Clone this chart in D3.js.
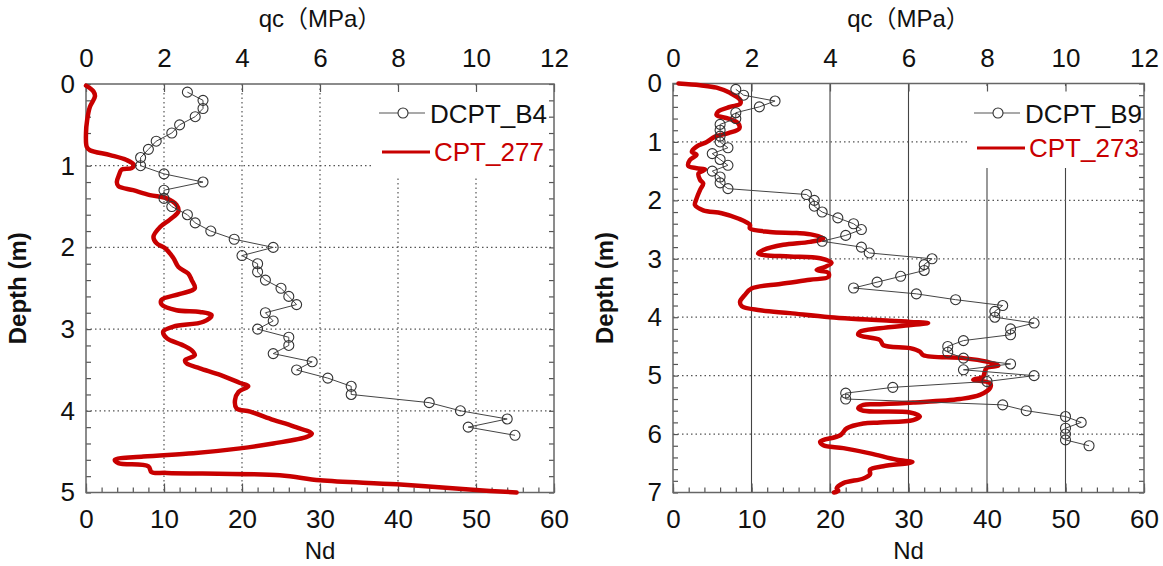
<!DOCTYPE html>
<html>
<head>
<meta charset="utf-8">
<script src="https://cdn.jsdelivr.net/npm/d3@7"></script>
<style>
body { margin: 0; background: #fff; }
svg text { font-family: "Liberation Sans", Arial, "Noto Sans CJK JP", sans-serif; fill: #111; }
</style>
</head>
<body>
<svg id="chart" width="1163" height="566"></svg>
<script>
// ---- data ----
const ndTicks = [0, 10, 20, 30, 40, 50, 60];
const qcTicks = [0, 2, 4, 6, 8, 10, 12];

const b4Depth = [0.1, 0.2, 0.3, 0.4, 0.5, 0.6, 0.7, 0.8, 0.9, 1.0,
    1.1, 1.2, 1.3, 1.4, 1.5, 1.6, 1.7, 1.8, 1.9, 2.0,
    2.1, 2.2, 2.3, 2.4, 2.5, 2.6, 2.7, 2.8, 2.9, 3.0,
    3.1, 3.2, 3.3, 3.4, 3.5, 3.6, 3.7, 3.8, 3.9, 4.0,
    4.1, 4.2, 4.3];
const b4Nd = [13, 15, 15, 14, 12, 11, 9, 8, 7, 7,
    10, 15, 10, 10, 11, 13, 14, 16, 19, 24,
    20, 22, 22, 23, 25, 26, 27, 23, 24, 22,
    26, 26, 24, 29, 27, 31, 34, 34, 44, 48,
    54, 49, 55];

// CPT_277: [qc (MPa), depth (m)]
const cpt277 = [[0.0, 0.02], [0.19, 0.09], [0.23, 0.15], [0.10, 0.28], [0.03, 0.44], [0.0, 0.6],
    [0.02, 0.77], [0.1, 0.81], [0.62, 0.87], [1.04, 0.93], [1.23, 0.99], [1.17, 1.03], [0.91, 1.05],
    [0.85, 1.11], [0.79, 1.2], [0.83, 1.25], [1.21, 1.30], [1.64, 1.36], [2.07, 1.40], [2.32, 1.48],
    [2.37, 1.56], [2.15, 1.66], [1.9, 1.75], [1.73, 1.87], [1.81, 1.95], [2.03, 2.01], [2.24, 2.13],
    [2.37, 2.24], [2.62, 2.32], [2.71, 2.4], [2.79, 2.5], [2.41, 2.57], [1.94, 2.64], [1.94, 2.70],
    [2.32, 2.77], [2.92, 2.79], [3.22, 2.83], [3.01, 2.91], [2.24, 2.97], [1.98, 3.03], [2.07, 3.11],
    [2.45, 3.19], [2.71, 3.26], [2.79, 3.32], [2.54, 3.38], [2.58, 3.42], [2.92, 3.48], [3.44, 3.56],
    [3.95, 3.66], [4.16, 3.70], [3.91, 3.77], [3.82, 3.87], [3.86, 3.97], [4.21, 4.01], [4.80, 4.11],
    [5.32, 4.19], [5.79, 4.28], [5.66, 4.32], [4.80, 4.40], [3.95, 4.46], [2.75, 4.52], [1.47, 4.56],
    [0.74, 4.60], [0.83, 4.64], [1.60, 4.68], [1.68, 4.75], [2.07, 4.76], [4.97, 4.79], [6.0, 4.85],
    [7.97, 4.9], [10.0, 4.97], [11.04, 5.0]];

const b9Depth = [0.1, 0.2, 0.3, 0.4, 0.5, 0.6, 0.7, 0.8, 0.9, 1.0,
    1.1, 1.2, 1.3, 1.4, 1.5, 1.6, 1.7, 1.8, 1.9, 2.0,
    2.1, 2.2, 2.3, 2.4, 2.5, 2.6, 2.7, 2.8, 2.9, 3.0,
    3.1, 3.2, 3.3, 3.4, 3.5, 3.6, 3.7, 3.8, 3.9, 4.0,
    4.1, 4.2, 4.3, 4.4, 4.5, 4.6, 4.7, 4.8, 4.9, 5.0,
    5.1, 5.2, 5.3, 5.4, 5.5, 5.6, 5.7, 5.8, 5.9, 6.0,
    6.1, 6.2];
const b9Nd = [8, 9, 13, 11, 8, 8, 6, 6, 6, 6,
    7, 5, 6, 7, 5, 6, 6, 7, 17, 18,
    18, 19, 21, 23, 24, 22, 19, 24, 25, 33,
    32, 32, 29, 26, 23, 31, 36, 42, 41, 41,
    46, 43, 43, 37, 35, 35, 37, 43, 37, 46,
    40, 28, 22, 22, 42, 45, 50, 52, 50, 50,
    50, 53];

// CPT_273: [qc (MPa), depth (m)]
const cpt273 = [[0.14, 0.0], [0.69, 0.03], [1.11, 0.07], [1.45, 0.16], [1.71, 0.28], [1.71, 0.35],
    [1.45, 0.40], [1.15, 0.48], [1.11, 0.54], [1.41, 0.60], [1.66, 0.68], [1.69, 0.77], [1.41, 0.85],
    [1.07, 0.91], [0.86, 1.0], [0.60, 1.08], [0.48, 1.17], [0.60, 1.22], [0.43, 1.31], [0.39, 1.41],
    [0.60, 1.45], [0.82, 1.47], [0.65, 1.54], [0.69, 1.65], [0.77, 1.71], [0.69, 1.82], [0.60, 1.97],
    [0.56, 2.08], [0.77, 2.17], [1.24, 2.22], [1.66, 2.31], [1.96, 2.42], [1.96, 2.48], [2.47, 2.54],
    [3.15, 2.56], [3.57, 2.59], [3.83, 2.65], [3.49, 2.71], [2.81, 2.76], [2.30, 2.85], [2.17, 2.91],
    [2.34, 2.94], [2.98, 2.96], [3.75, 2.99], [4.04, 3.07], [3.87, 3.14], [3.66, 3.19], [3.96, 3.24],
    [3.96, 3.31], [3.49, 3.36], [2.73, 3.43], [2.0, 3.51], [1.83, 3.62], [1.71, 3.73], [1.75, 3.81],
    [2.22, 3.88], [2.98, 3.93], [4.0, 4.0], [6.04, 4.08], [6.5, 4.10], [6.12, 4.13], [5.27, 4.19],
    [4.76, 4.25], [4.72, 4.30], [5.27, 4.39], [5.36, 4.48], [6.04, 4.53], [6.29, 4.59], [6.38, 4.65],
    [7.40, 4.70], [7.99, 4.76], [8.29, 4.83], [7.99, 4.87], [7.94, 4.94], [7.9, 5.02], [7.65, 5.07],
    [8.08, 5.13], [8.08, 5.21], [7.82, 5.33], [7.31, 5.40], [6.12, 5.46], [5.27, 5.49], [4.85, 5.50],
    [4.72, 5.56], [4.85, 5.60], [6.04, 5.63], [6.29, 5.70], [6.12, 5.76], [5.27, 5.80], [4.85, 5.82],
    [4.43, 5.90], [4.26, 6.02], [3.75, 6.13], [3.83, 6.19], [4.34, 6.24], [5.02, 6.33], [5.70, 6.44],
    [6.1, 6.48], [5.36, 6.55], [5.02, 6.61], [5.02, 6.69], [4.85, 6.76], [4.34, 6.84], [4.17, 6.93],
    [4.21, 6.97], [4.1, 7.0]];

const red = "#c80000";

const panels = [
    { x0: 86, x1: 554, y0: 84, y1: 492.5, depthTicks: [0, 1, 2, 3, 4, 5], solidGrid: false,
      dcpt: "DCPT_B4", cpt: "CPT_277", depth: b4Depth, nd: b4Nd, trace: cpt277,
      legend: { x: 372, y: 86, w: 178, h: 91, y1: 113, y2: 152 } },
    { x0: 673, x1: 1144, y0: 83.5, y1: 492.5, depthTicks: [0, 1, 2, 3, 4, 5, 6, 7], solidGrid: true,
      dcpt: "DCPT_B9", cpt: "CPT_273", depth: b9Depth, nd: b9Nd, trace: cpt273,
      legend: { x: 967, y: 86, w: 173, h: 82, y1: 113, y2: 148 } }
];

const svg = d3.select("#chart");

panels.forEach(p => {
    const maxDepth = p.depthTicks[p.depthTicks.length - 1];
    const x = d3.scaleLinear().domain([0, 60]).range([p.x0, p.x1]);
    const xq = d3.scaleLinear().domain([0, 12]).range([p.x0, p.x1]);
    const y = d3.scaleLinear().domain([0, maxDepth]).range([p.y0, p.y1]);

    const g = svg.append("g");

    // grid
    g.selectAll(".vgrid")
        .data(ndTicks.slice(1, -1))
        .join("line")
        .attr("x1", d => x(d)).attr("x2", d => x(d))
        .attr("y1", p.y0).attr("y2", p.y1)
        .attr("stroke", p.solidGrid ? "#444" : "#555")
        .attr("stroke-width", p.solidGrid ? 1.1 : 1.2)
        .attr("stroke-dasharray", p.solidGrid ? null : "1.5,3");

    g.selectAll(".hgrid")
        .data(p.depthTicks.slice(1, -1))
        .join("line")
        .attr("x1", p.x0).attr("x2", p.x1)
        .attr("y1", d => y(d)).attr("y2", d => y(d))
        .attr("stroke", "#555")
        .attr("stroke-width", 1.2)
        .attr("stroke-dasharray", "1.5,3");

    // legend background hides grid
    g.append("rect")
        .attr("x", p.legend.x).attr("y", p.legend.y)
        .attr("width", p.legend.w).attr("height", p.legend.h)
        .attr("fill", "#fff");

    // ticks
    const tickStyle = sel => {
        sel.select(".domain").remove();
        sel.selectAll(".tick line").attr("stroke", "#555").attr("stroke-width", 1.2);
        sel.selectAll(".tick text").style("font-size", "26px").attr("fill", "#111");
    };

    g.append("g")
        .attr("transform", `translate(0,${p.y1})`)
        .call(d3.axisBottom(x).tickValues(d3.range(0, 61, 2)).tickSize(-5).tickFormat(""))
        .call(tickStyle);
    g.append("g")
        .attr("transform", `translate(0,${p.y1})`)
        .call(d3.axisBottom(x).tickValues(ndTicks).tickSize(-9).tickPadding(17))
        .call(tickStyle);
    g.append("g")
        .attr("transform", `translate(0,${p.y0})`)
        .call(d3.axisTop(xq).tickValues(qcTicks).tickSize(-8).tickPadding(17))
        .call(tickStyle);

    const minorDepth = d3.range(0, maxDepth * 5 + 1).map(i => i / 5);
    g.append("g")
        .attr("transform", `translate(${p.x0},0)`)
        .call(d3.axisLeft(y).tickValues(minorDepth).tickSize(-5).tickFormat(""))
        .call(tickStyle);
    g.append("g")
        .attr("transform", `translate(${p.x1},0)`)
        .call(d3.axisRight(y).tickValues(minorDepth).tickSize(-5).tickFormat(""))
        .call(tickStyle);
    g.append("g")
        .attr("transform", `translate(${p.x0},0)`)
        .call(d3.axisLeft(y).tickValues(p.depthTicks).tickSize(0).tickPadding(11).tickFormat(d3.format("d")))
        .call(tickStyle);

    // frame
    g.append("rect")
        .attr("x", p.x0).attr("y", p.y0)
        .attr("width", p.x1 - p.x0).attr("height", p.y1 - p.y0)
        .attr("fill", "none")
        .attr("stroke", "#666")
        .attr("stroke-width", 1.5);

    // CPT trace
    const cptLine = d3.line()
        .x(d => xq(d[0]))
        .y(d => y(d[1]))
        .curve(d3.curveCatmullRom.alpha(0.5));

    g.append("path")
        .datum(p.trace)
        .attr("d", cptLine)
        .attr("fill", "none")
        .attr("stroke", red)
        .attr("stroke-width", 4.5)
        .attr("stroke-linejoin", "round")
        .attr("stroke-linecap", "round");

    // DCPT series
    const pts = p.depth.map((d, i) => ({ depth: d, nd: p.nd[i] }));
    const dLine = d3.line().x(d => x(d.nd)).y(d => y(d.depth));

    g.append("path")
        .datum(pts)
        .attr("d", dLine)
        .attr("fill", "none")
        .attr("stroke", "#444")
        .attr("stroke-width", 1);

    g.selectAll(".pt")
        .data(pts)
        .join("circle")
        .attr("cx", d => x(d.nd))
        .attr("cy", d => y(d.depth))
        .attr("r", 5)
        .attr("fill", "none")
        .attr("stroke", "#333")
        .attr("stroke-width", 1.1);

    // legend
    const lg = p.legend;
    g.append("line")
        .attr("x1", lg.x + 7).attr("x2", lg.x + 53)
        .attr("y1", lg.y1).attr("y2", lg.y1)
        .attr("stroke", "#555").attr("stroke-width", 1.2);
    g.append("circle")
        .attr("cx", lg.x + 31).attr("cy", lg.y1).attr("r", 5)
        .attr("fill", "#fff").attr("stroke", "#333").attr("stroke-width", 1.1);
    g.append("text")
        .attr("x", lg.x + 58).attr("y", lg.y1 + 10)
        .style("font-size", "26px")
        .text(p.dcpt);

    g.append("line")
        .attr("x1", lg.x + 10).attr("x2", lg.x + 58)
        .attr("y1", lg.y2).attr("y2", lg.y2)
        .attr("stroke", red).attr("stroke-width", 3);
    g.append("text")
        .attr("x", lg.x + 62).attr("y", lg.y2 + 9)
        .style("font-size", "26px")
        .style("fill", red)
        .text(p.cpt);

    // axis titles
    const cx = (p.x0 + p.x1) / 2;
    g.append("text")
        .attr("x", cx).attr("y", 27)
        .attr("text-anchor", "middle")
        .style("font-size", "24px")
        .text("qc（MPa）");

    g.append("text")
        .attr("x", cx).attr("y", 559)
        .attr("text-anchor", "middle")
        .style("font-size", "24px")
        .text("Nd");

    g.append("text")
        .attr("transform", `translate(${p.x0 - 60},${(p.y0 + p.y1) / 2}) rotate(-90)`)
        .attr("text-anchor", "middle")
        .style("font-size", "24px")
        .style("font-weight", "bold")
        .text("Depth (m)");
});
</script>
</body>
</html>
